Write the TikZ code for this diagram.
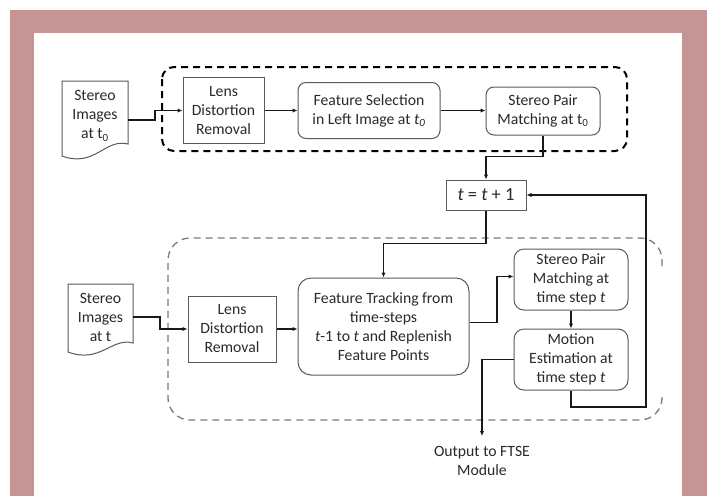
\documentclass[tikz,border=0pt]{standalone}
\usepackage{fontspec}
\setmainfont{Carlito}
\usetikzlibrary{arrows.meta}
\definecolor{framepink}{HTML}{C59596}
\definecolor{boxgray}{HTML}{5A5A5A}
\definecolor{txtgray}{HTML}{2A2A2A}
\definecolor{dashgray}{HTML}{7A7A7A}
\begin{document}
\begin{tikzpicture}[x=1pt,y=-1pt,
  lbl/.style={align=center, font=\fontsize{15.7}{19}\selectfont, text=txtgray, inner sep=0pt},
  sqbox/.style={lbl, draw=boxgray, line width=1pt},
  rbox/.style={sqbox, rounded corners=8pt},
  docshape/.style={draw=boxgray, line width=1pt},
  conn/.style={line width=1.5pt, draw=black!90, -{Latex[length=5pt,width=4.5pt]}},
  grouptop/.style={draw=black, line width=2pt, dash pattern=on 7pt off 5pt, rounded corners=12pt},
  groupbot/.style={draw=dashgray, line width=1.3pt, dash pattern=on 7pt off 5pt, rounded corners=22pt}]
\useasboundingbox (0,0) rectangle (707,496);
% frame
\fill[framepink] (10,10) rectangle (707,496);
\fill[white] (34,33) rectangle (682,496);

% group outlines
\draw[grouptop] (162,67) rectangle (627,151);
\draw[groupbot] (662,266) -- (662,238) -- (168,238) -- (168,420) -- (662,420) -- (662,394);

% top row
\node[lbl, minimum width=66pt] (d0) at (95,116) {Stereo\\Images\\at t\textsubscript{0}};
\draw[docshape] (62,81) -- (128,81) -- (128,144)
  .. controls (105,138) and (95,168) .. (62,156) -- cycle;
\node[sqbox, minimum width=81pt, minimum height=66pt] (lens0) at (223.5,110.5) {Lens\\Distortion\\Removal};
\node[rbox, minimum width=142pt, minimum height=56pt] (fs0) at (369,110.5) {Feature Selection\\in Left Image at \textit{t}\textsubscript{\textit{0}}};
\node[rbox, minimum width=114pt, minimum height=48pt] (spm0) at (543,111) {Stereo Pair\\Matching at t\textsubscript{0}};

% update box
\node[sqbox, font=\fontsize{18.5}{22}\selectfont, minimum width=80pt, minimum height=30pt] (tb) at (486,195) {\textit{t} = \textit{t} + 1};

% bottom row
\node[lbl, minimum width=65pt] (d1) at (100.5,317) {Stereo\\Images\\at t};
\draw[docshape] (68,284) -- (133,284) -- (133,343)
  .. controls (112,337) and (100,364) .. (68,352) -- cycle;
\node[sqbox, minimum width=88pt, minimum height=66pt] (lens1) at (232,329) {Lens\\Distortion\\Removal};
\node[rbox, rounded corners=13pt, minimum width=171pt, minimum height=97pt] (ft) at (383.5,326.5) {Feature Tracking from\\time-steps\\\textit{t}-1 to \textit{t} and Replenish\\Feature Points};
\node[rbox, rounded corners=10pt, minimum width=114pt, minimum height=61pt] (spm1) at (571,279.5) {Stereo Pair\\Matching at\\time step \textit{t}};
\node[rbox, rounded corners=10pt, minimum width=114pt, minimum height=61pt] (me) at (571,359.5) {Motion\\Estimation at\\time step \textit{t}};
\node[lbl, anchor=north] (out) at (482,446) {Output to FTSE\\Module};

% connectors
\draw[conn] ([yshift=-4pt]d0.east) -- ++(27,0) |- (lens0.west);
\draw[conn] (lens0.east) -- (fs0.west);
\draw[conn] (fs0.east) -- (fs0.east -| spm0.west);
\draw[conn] (spm0.south) -- ++(0,21) -| (tb.north);
\draw[conn] (tb.south) -- ++(0,33) -| (ft.north);
\draw[conn] (d1.east) -- ++(27,0) |- (lens1.west);
\draw[conn] (lens1.east) -- (lens1.east -| ft.west);
\draw[conn] ([yshift=4pt]ft.east) -- ++(27.5,0) |- ([yshift=3pt]spm1.west);
\draw[conn] (spm1.south) -- (me.north);
\draw[conn] (me.west) -| ([yshift=10pt]out.north);
\coordinate (fb) at (646,407);
\draw[conn] (me.south) |- (fb) |- (tb.east);
\end{tikzpicture}
\end{document}
